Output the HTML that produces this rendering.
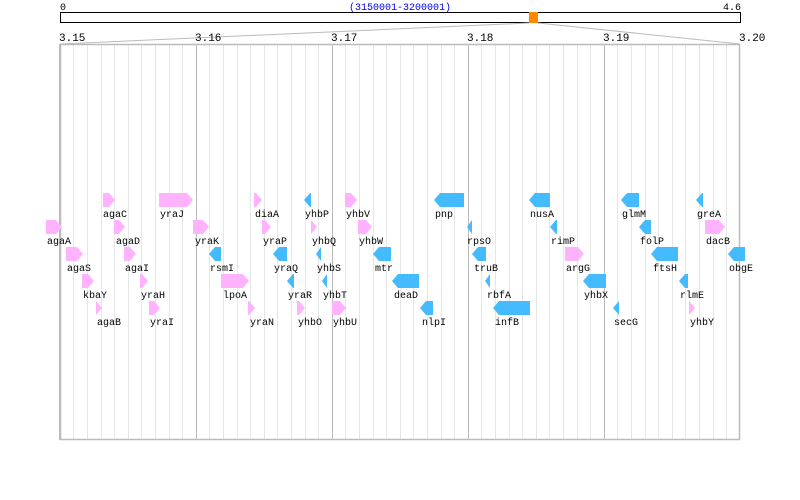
<!DOCTYPE html>
<html><head><meta charset="utf-8"><style>
html,body{margin:0;padding:0;background:#fff;}
svg{display:block;}
text{font-family:"Liberation Mono","DejaVu Sans Mono",monospace;font-size:10px;fill:#000;}
.p{fill:#ffb3ff;}
.b{fill:#44bbff;}
</style></head><body>
<svg width="800" height="500" viewBox="0 0 800 500" xmlns="http://www.w3.org/2000/svg">
<text x="60" y="10">0</text>
<text x="400" y="10" text-anchor="middle" style="fill:#0000ee">(3150001-3200001)</text>
<text x="741" y="10" text-anchor="end">4.6</text>
<rect x="60.5" y="12.5" width="680" height="10" fill="none" stroke="#000" stroke-width="1"/>
<rect x="529" y="12" width="9" height="11" fill="#ff8800"/>
<polyline points="529,23 60,44" stroke="#bbb" fill="none"/>
<polyline points="538,23 740,44" stroke="#bbb" fill="none"/>
<text x="59" y="41" style="font-size:11px">3.15</text>
<text x="195" y="41" style="font-size:11px">3.16</text>
<text x="331" y="41" style="font-size:11px">3.17</text>
<text x="467" y="41" style="font-size:11px">3.18</text>
<text x="603" y="41" style="font-size:11px">3.19</text>
<text x="739" y="41" style="font-size:11px">3.20</text>
<g stroke="#e6e6e6" stroke-width="1">
<line x1="73.5" y1="44" x2="73.5" y2="440"/><line x1="87.5" y1="44" x2="87.5" y2="440"/><line x1="101.5" y1="44" x2="101.5" y2="440"/><line x1="114.5" y1="44" x2="114.5" y2="440"/><line x1="128.5" y1="44" x2="128.5" y2="440"/><line x1="141.5" y1="44" x2="141.5" y2="440"/><line x1="155.5" y1="44" x2="155.5" y2="440"/><line x1="169.5" y1="44" x2="169.5" y2="440"/><line x1="182.5" y1="44" x2="182.5" y2="440"/>
<line x1="209.5" y1="44" x2="209.5" y2="440"/><line x1="223.5" y1="44" x2="223.5" y2="440"/><line x1="237.5" y1="44" x2="237.5" y2="440"/><line x1="250.5" y1="44" x2="250.5" y2="440"/><line x1="264.5" y1="44" x2="264.5" y2="440"/><line x1="277.5" y1="44" x2="277.5" y2="440"/><line x1="291.5" y1="44" x2="291.5" y2="440"/><line x1="305.5" y1="44" x2="305.5" y2="440"/><line x1="318.5" y1="44" x2="318.5" y2="440"/>
<line x1="345.5" y1="44" x2="345.5" y2="440"/><line x1="359.5" y1="44" x2="359.5" y2="440"/><line x1="373.5" y1="44" x2="373.5" y2="440"/><line x1="386.5" y1="44" x2="386.5" y2="440"/><line x1="400.5" y1="44" x2="400.5" y2="440"/><line x1="413.5" y1="44" x2="413.5" y2="440"/><line x1="427.5" y1="44" x2="427.5" y2="440"/><line x1="441.5" y1="44" x2="441.5" y2="440"/><line x1="454.5" y1="44" x2="454.5" y2="440"/>
<line x1="481.5" y1="44" x2="481.5" y2="440"/><line x1="495.5" y1="44" x2="495.5" y2="440"/><line x1="509.5" y1="44" x2="509.5" y2="440"/><line x1="522.5" y1="44" x2="522.5" y2="440"/><line x1="536.5" y1="44" x2="536.5" y2="440"/><line x1="549.5" y1="44" x2="549.5" y2="440"/><line x1="563.5" y1="44" x2="563.5" y2="440"/><line x1="577.5" y1="44" x2="577.5" y2="440"/><line x1="590.5" y1="44" x2="590.5" y2="440"/>
<line x1="617.5" y1="44" x2="617.5" y2="440"/><line x1="631.5" y1="44" x2="631.5" y2="440"/><line x1="645.5" y1="44" x2="645.5" y2="440"/><line x1="658.5" y1="44" x2="658.5" y2="440"/><line x1="672.5" y1="44" x2="672.5" y2="440"/><line x1="685.5" y1="44" x2="685.5" y2="440"/><line x1="699.5" y1="44" x2="699.5" y2="440"/><line x1="713.5" y1="44" x2="713.5" y2="440"/><line x1="726.5" y1="44" x2="726.5" y2="440"/>
</g>
<g stroke="#bbb" stroke-width="1">
<line x1="196.5" y1="44" x2="196.5" y2="440"/><line x1="332.5" y1="44" x2="332.5" y2="440"/><line x1="468.5" y1="44" x2="468.5" y2="440"/><line x1="604.5" y1="44" x2="604.5" y2="440"/>
</g>
<rect x="60.5" y="44.5" width="679" height="395" fill="none" stroke="#bbb" stroke-width="1.5"/>
<line x1="60" y1="44" x2="60" y2="440" stroke="#bbb" stroke-width="2"/>

<!-- row 1 y=193 -->
<polygon class="p" points="103,193 109,193 115,200 109,207 103,207"/><text x="103" y="217">agaC</text>
<polygon class="p" points="159,193 187,193 193,200 187,207 159,207"/><text x="160" y="217">yraJ</text>
<polygon class="p" points="254,193 256,193 262,200 256,207 254,207"/><text x="255" y="217">diaA</text>
<polygon class="b" points="304,200 310,193 311,193 311,207 310,207"/><text x="305" y="217">yhbP</text>
<polygon class="p" points="345,193 351,193 357,200 351,207 345,207"/><text x="346" y="217">yhbV</text>
<polygon class="b" points="434,200 440,193 464,193 464,207 440,207"/><text x="435" y="217">pnp</text>
<polygon class="b" points="529,200 535,193 550,193 550,207 535,207"/><text x="530" y="217">nusA</text>
<polygon class="b" points="621,200 627,193 639,193 639,207 627,207"/><text x="622" y="217">glmM</text>
<polygon class="b" points="696,200 702,193 703,193 703,207 702,207"/><text x="697" y="217">greA</text>

<!-- row 2 y=220 -->
<polygon class="p" points="46,220 56,220 62,227 56,234 46,234"/><text x="47" y="244">agaA</text>
<polygon class="p" points="114,220 119,220 125,227 119,234 114,234"/><text x="116" y="244">agaD</text>
<polygon class="p" points="193,220 203,220 209,227 203,234 193,234"/><text x="195" y="244">yraK</text>
<polygon class="p" points="262,220 265,220 271,227 265,234 262,234"/><text x="263" y="244">yraP</text>
<polygon class="p" points="311,220 311,220 317,227 311,234 311,234"/><text x="312" y="244">yhbQ</text>
<polygon class="p" points="358,220 366,220 372,227 366,234 358,234"/><text x="359" y="244">yhbW</text>
<polygon class="b" points="467,227 472,220 472,234"/><text x="467" y="244">rpsO</text>
<polygon class="b" points="550,227 556,220 557,220 557,234 556,234"/><text x="551" y="244">rimP</text>
<polygon class="b" points="639,227 645,220 651,220 651,234 645,234"/><text x="640" y="244">folP</text>
<polygon class="p" points="705,220 719,220 725,227 719,234 705,234"/><text x="706" y="244">dacB</text>

<!-- row 3 y=247 -->
<polygon class="p" points="66,247 77,247 83,254 77,261 66,261"/><text x="67" y="271">agaS</text>
<polygon class="p" points="124,247 130,247 136,254 130,261 124,261"/><text x="125" y="271">agaI</text>
<polygon class="b" points="209,254 215,247 221,247 221,261 215,261"/><text x="210" y="271">rsmI</text>
<polygon class="b" points="273,254 279,247 287,247 287,261 279,261"/><text x="274" y="271">yraQ</text>
<polygon class="b" points="316,254 321,247 321,261"/><text x="317" y="271">yhbS</text>
<polygon class="b" points="373,254 379,247 391,247 391,261 379,261"/><text x="375" y="271">mtr</text>
<polygon class="b" points="472,254 478,247 486,247 486,261 478,261"/><text x="474" y="271">truB</text>
<polygon class="p" points="565,247 578,247 584,254 578,261 565,261"/><text x="566" y="271">argG</text>
<polygon class="b" points="651,254 657,247 678,247 678,261 657,261"/><text x="653" y="271">ftsH</text>
<polygon class="b" points="728,254 734,247 745,247 745,261 734,261"/><text x="729" y="271">obgE</text>

<!-- row 4 y=274 -->
<polygon class="p" points="82,274 88,274 94,281 88,288 82,288"/><text x="83" y="298">kbaY</text>
<polygon class="p" points="140,274 142,274 148,281 142,288 140,288"/><text x="141" y="298">yraH</text>
<polygon class="p" points="221,274 243,274 249,281 243,288 221,288"/><text x="223" y="298">lpoA</text>
<polygon class="b" points="287,281 293,274 294,274 294,288 293,288"/><text x="288" y="298">yraR</text>
<polygon class="b" points="322,281 327,274 327,288"/><text x="323" y="298">yhbT</text>
<polygon class="b" points="392,281 398,274 419,274 419,288 398,288"/><text x="394" y="298">deaD</text>
<polygon class="b" points="485,281 490,274 490,288"/><text x="487" y="298">rbfA</text>
<polygon class="b" points="583,281 589,274 606,274 606,288 589,288"/><text x="584" y="298">yhbX</text>
<polygon class="b" points="679,281 685,274 688,274 688,288 685,288"/><text x="680" y="298">rlmE</text>

<!-- row 5 y=301 -->
<polygon class="p" points="96,301 96,301 102,308 96,315 96,315"/><text x="97" y="325">agaB</text>
<polygon class="p" points="149,301 154,301 160,308 154,315 149,315"/><text x="150" y="325">yraI</text>
<polygon class="p" points="248,301 249,301 255,308 249,315 248,315"/><text x="250" y="325">yraN</text>
<polygon class="p" points="297,301 299,301 305,308 299,315 297,315"/><text x="298" y="325">yhbO</text>
<polygon class="p" points="332,301 340,301 346,308 340,315 332,315"/><text x="333" y="325">yhbU</text>
<polygon class="b" points="420,308 426,301 433,301 433,315 426,315"/><text x="422" y="325">nlpI</text>
<polygon class="b" points="493,308 499,301 530,301 530,315 499,315"/><text x="495" y="325">infB</text>
<polygon class="b" points="613,308 619,301 619,315"/><text x="614" y="325">secG</text>
<polygon class="p" points="689,301 689,301 695,308 689,315 689,315"/><text x="690" y="325">yhbY</text>
</svg>
</body></html>
